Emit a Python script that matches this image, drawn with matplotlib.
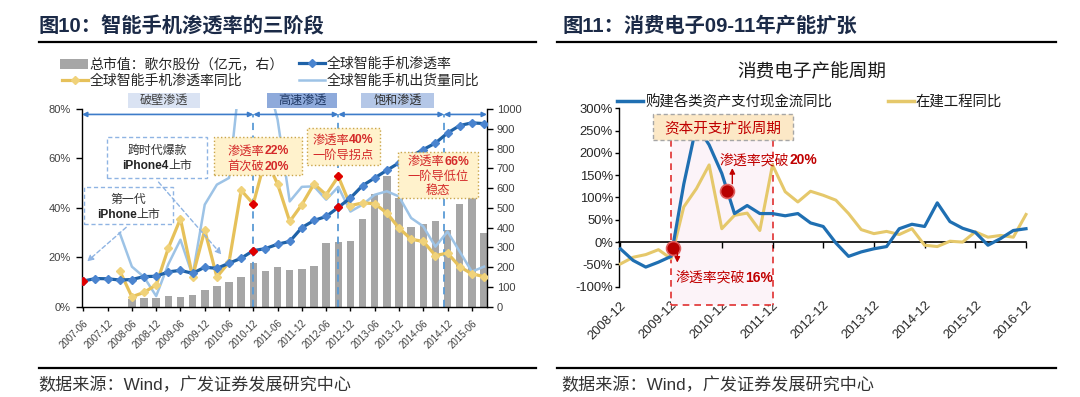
import numpy as np
import matplotlib
matplotlib.use("Agg")
import matplotlib.pyplot as plt
from matplotlib.patches import Rectangle, FancyArrowPatch
from matplotlib.lines import Line2D

FAM = ["Liberation Sans", "Noto Sans CJK SC"]
plt.rcParams["font.family"] = FAM
plt.rcParams["axes.unicode_minus"] = False

nan = np.nan
# ---------------- 图10 data ----------------
quarters_l = ["2007-06", "2007-09", "2007-12", "2008-03", "2008-06", "2008-09", "2008-12",
              "2009-03", "2009-06", "2009-09", "2009-12", "2010-03", "2010-06", "2010-09",
              "2010-12", "2011-03", "2011-06", "2011-09", "2011-12", "2012-03", "2012-06",
              "2012-09", "2012-12", "2013-03", "2013-06", "2013-09", "2013-12", "2014-03",
              "2014-06", "2014-09", "2014-12", "2015-03", "2015-06", "2015-09"]
penetration = [10.4, 11.4, 11.3, 10.8, 11.0, 12.2, 12.3, 14.1, 14.7, 13.5, 16.0, 15.5, 17.6, 19.6,
               22.7, 23.5, 25.3, 26.4, 32.0, 34.9, 36.5, 40.2, 44.0, 49.0, 52.1, 55.2, 58.2,
               60.9, 63.6, 66.2, 70.3, 73.3, 74.4, 74.1]
penetration_yoy = [nan, nan, nan, 14.5, 4.0, 5.8, 8.8, 23.7, 35.6, 12.2, 31.0, 12.0, 18.0, 47.1,
                   41.6, 60.0, 49.7, 34.5, 41.3, 49.7, 45.3, 52.7, 40.9, 42.0, 41.7, 37.9, 31.8,
                   27.3, 26.4, 20.7, 21.7, 16.2, 13.3, 12.2]
shipment_yoy = [nan, nan, nan, 29.8, 16.2, 12.0, 4.3, 17.2, 27.1, 12.6, 41.3, 49.4, 52.1, 98.0,
                105.0, 95.0, 75.7, 42.6, 48.5, 48.7, 43.3, 48.5, 38.5, 41.3, 45.3, 46.7, 44.6,
                35.9, 32.5, 24.3, 30.4, 22.3, 14.2, 16.2]
goertek_mv = [nan, nan, nan, nan, 41, 44, 43, 54, 49, 59, 83, 106, 125, 152, 223, 181, 203, 186,
              193, 207, 322, 329, 332, 442, 568, 659, 551, 403, 420, 434, 386, 522, 600, 375]
key_idx = [14, 21]            # 渗透率22%, 渗透率40%
stage_bounds = [14, 21, 29.7]  # dashed stage separators
stage_names = ["破壁渗透", "高速渗透", "饱和渗透"]

# ---------------- 图11 data ----------------
quarters_r = ["2008-12", "2009-03", "2009-06", "2009-09", "2009-12", "2010-03", "2010-06",
              "2010-09", "2010-12", "2011-03", "2011-06", "2011-09", "2011-12", "2012-03",
              "2012-06", "2012-09", "2012-12", "2013-03", "2013-06", "2013-09", "2013-12",
              "2014-03", "2014-06", "2014-09", "2014-12", "2015-03", "2015-06", "2015-09",
              "2015-12", "2016-03", "2016-06", "2016-09", "2016-12"]
capex_yoy = [-15, -41, -56, -45, -32, 130, 262, 218, 154, 64, 82, 64, 64, 59, 64, 43, 35, -2,
             -32, -22, -15, -10, 30, 40, 35, 88, 46, 31, 22, -7, 8, 26, 30]
cip_yoy = [-49, -34, -28, -17, -37, 79, 120, 173, 30, 60, 65, 26, 173, 113, 90, 114, 105, 94,
           64, 28, 19, 24, 17, 30, -7, -10, 2, 0, 23, 11, 15, 11, 62]

# ---------------- figure helpers ----------------
W, H = 1080, 397
fig = plt.figure(figsize=(W / 100, H / 100), dpi=100)


def fx(x):
    return x / W


def fy(y):
    return 1 - y / H


def fline(x0, y0, x1, y1, **kw):
    fig.add_artist(Line2D([fx(x0), fx(x1)], [fy(y0), fy(y1)], transform=fig.transFigure, **kw))


def fbox(x0, y0, x1, y1, fc, ec, ls="-", lw=1.0, z=5):
    fig.add_artist(Rectangle((fx(x0), fy(y1)), (x1 - x0) / W, (y1 - y0) / H,
                             transform=fig.transFigure, fc=fc, ec=ec, ls=ls, lw=lw, zorder=z))


def rich(x, y, parts, size, ha="center", z=7):
    """parts: list of (text, bold, color); y is visual center (px from top)."""
    r = fig.canvas.get_renderer()
    objs = []
    base = y + 0.36 * size * 100 / 72
    for s, bold, col in parts:
        t = fig.text(0, 0, s, fontsize=size, fontweight="bold" if bold else "normal",
                     color=col, ha="left", va="baseline", zorder=z)
        objs.append(t)
    ws = [t.get_window_extent(renderer=r).width for t in objs]
    x0 = x - sum(ws) / 2 if ha == "center" else x
    for t, w in zip(objs, ws):
        t.set_position((fx(x0), fy(base)))
        x0 += w


TITLE_C = "#1b2a47"
BLUE = "#1f62a8"
BLUE_M = "#4a84cf"
GOLD = "#e6c15a"
GOLD_M = "#f0d27a"
LBLUE = "#9dc3e6"
GREY = "#a6a6a6"
RED = "#e00000"
TXT_RED = "#d42a2a"

# ---------------- panel titles / rules / footers ----------------
fig.text(fx(38.8), fy(26), "图10：智能手机渗透率的三阶段", fontsize=14.6, fontweight="bold",
         color=TITLE_C, va="center", ha="left")
fig.text(fx(562.5), fy(26), "图11：消费电子09-11年产能扩张", fontsize=14.6, fontweight="bold",
         color=TITLE_C, va="center", ha="left")
fline(38.8, 42, 536.3, 42, color="black", lw=1.6)
fline(557.3, 42, 1056.3, 42, color="black", lw=1.6)
fline(38.8, 367.8, 536.3, 367.8, color="black", lw=1.6)
fline(557.3, 368.3, 1056.3, 368.3, color="black", lw=1.6)
fig.text(fx(38.8), fy(384.8), "数据来源：Wind，广发证券发展研究中心", fontsize=12.3,
         color="#333333", va="center", ha="left")
fig.text(fx(561.5), fy(384.8), "数据来源：Wind，广发证券发展研究中心", fontsize=12.3,
         color="#333333", va="center", ha="left")

# ---------------- left chart ----------------
ax1 = fig.add_axes([fx(82), fy(306.7), (487 - 82) / W, (306.7 - 109) / H])
ax2 = ax1.twinx()
ax1.set_zorder(ax2.get_zorder() + 1)
ax1.patch.set_visible(False)

xl = np.arange(len(quarters_l))
mv = np.array(goertek_mv, dtype=float)
ok = ~np.isnan(mv)
ax2.bar(xl[ok], mv[ok], width=0.62, color=GREY, zorder=2)
ax2.set_ylim(0, 1000)
ax2.set_yticks(np.arange(0, 1001, 100))
ax2.tick_params(axis="y", direction="out", length=4, width=1, labelsize=8,
                labelcolor="#404040", pad=3)
for s in ["top", "left", "bottom"]:
    ax2.spines[s].set_visible(False)
ax2.spines["right"].set_linewidth(1.0)

ax1.vlines(stage_bounds, 0, 77.8, colors="#5b9bd5", linestyles=(0, (4, 3)), lw=1.3, zorder=1.5)
ax1.plot(xl, shipment_yoy, color=LBLUE, lw=1.8, zorder=2)
ax1.plot(xl, penetration_yoy, color=GOLD, lw=2.3, marker="D", ms=4.5, mfc=GOLD_M, mec=GOLD_M,
         zorder=3)
ax1.plot(xl, penetration, color=BLUE, lw=2.3, marker="D", ms=4.5, mfc=BLUE_M, mec=BLUE_M,
         zorder=4)
pen = np.array(penetration)
yoy = np.array(penetration_yoy)
ax1.plot([0] + key_idx, pen[[0] + key_idx], ls="none", marker="D", ms=4.5, color=RED, zorder=6)
ax1.plot(key_idx, yoy[key_idx], ls="none", marker="D", ms=4.5, color=RED, zorder=6)

ax1.set_xlim(-0.11, 33.25)
ax1.set_ylim(0, 80)
ax1.set_yticks([0, 20, 40, 60, 80])
ax1.set_yticklabels([f"{v}%" for v in [0, 20, 40, 60, 80]])
ax1.set_xticks(xl[::2])
ax1.set_xticklabels(quarters_l[::2])
ax1.tick_params(axis="y", direction="out", length=4, width=1, labelsize=8, labelcolor="#404040",
                pad=4)
ax1.tick_params(axis="x", direction="out", length=3, width=1, labelsize=7, labelcolor="#404040",
                pad=5)
for lbl in ax1.get_xticklabels():
    lbl.set_rotation(45)
    lbl.set_ha("right")
    lbl.set_rotation_mode("anchor")
for s in ["top", "right"]:
    ax1.spines[s].set_visible(False)
for s in ["left", "bottom"]:
    ax1.spines[s].set_linewidth(1.0)

# stage arrows
edges = [ax1.get_xlim()[0]] + stage_bounds + [ax1.get_xlim()[1]]
for a, b in zip(edges[:-1], edges[1:]):
    ax1.annotate("", xy=(b, 77.8), xytext=(a, 77.8),
                 arrowprops=dict(arrowstyle="<|-|>", color="#3d7cc9", lw=1.2, shrinkA=0,
                                 shrinkB=0, mutation_scale=7),
                 annotation_clip=False, zorder=6)

# stage label boxes
stage_boxes = [(128, 200, "#dae3f3", "#404040"), (267, 337.4, "#8eaadb", "#1f3864"),
               (361, 434, "#b4c7e7", "#303030")]
for name, (x0, x1, fc, tc) in zip(stage_names, stage_boxes):
    fbox(x0, 92.7, x1, 108.3, fc, "none", z=5)
    fig.text(fx((x0 + x1) / 2), fy(100.5), name, fontsize=8.7, color=tc, ha="center",
             va="center", zorder=6)

# legend (left)
fbox(59.5, 59.5, 88.2, 69.2, GREY, "none", z=5)
fig.text(fx(89.3), fy(64), "总市值：歌尔股份（亿元，右）", fontsize=10, color="#262626",
         va="center", ha="left")
fline(299.3, 63.3, 325.3, 63.3, color=BLUE, lw=2.3)
fig.add_artist(Line2D([fx(312.3)], [fy(63.3)], transform=fig.transFigure, marker="D", ms=4.5,
                      color=BLUE_M, ls="none"))
fig.text(fx(327), fy(64), "全球智能手机渗透率", fontsize=10, color="#262626", va="center",
         ha="left")
fline(61.6, 80.3, 88.2, 80.3, color=GOLD, lw=2.3)
fig.add_artist(Line2D([fx(74.9)], [fy(80.3)], transform=fig.transFigure, marker="D", ms=4.5,
                      color=GOLD_M, ls="none"))
fig.text(fx(89.3), fy(81), "全球智能手机渗透率同比", fontsize=10, color="#262626",
         va="center", ha="left")
fline(299.3, 80.3, 325.3, 80.3, color=LBLUE, lw=1.8)
fig.text(fx(327), fy(81), "全球智能手机出货量同比", fontsize=10, color="#262626",
         va="center", ha="left")

# annotation boxes (left)
DASHB = "#8fb4e3"
fbox(106.7, 136.7, 207.3, 178.3, "white", DASHB, ls=(0, (3, 2)), lw=1.0)
rich(157, 149.5, [("跨时代爆款", False, "#333333")], 8.6)
rich(157, 165, [("iPhone4", True, "#222222"), ("上市", False, "#333333")], 8.6)
fbox(84.3, 187.3, 172.7, 224, "white", DASHB, ls=(0, (3, 2)), lw=1.0)
rich(128.5, 198.5, [("第一代", False, "#333333")], 8.6)
rich(128.5, 213.5, [("iPhone", True, "#222222"), ("上市", False, "#333333")], 8.6)
for (a, b) in [((156.7, 180), (223.3, 256.7)), ((128.3, 225.5), (85, 263.3))]:
    fig.add_artist(FancyArrowPatch((fx(a[0]), fy(a[1])), (fx(b[0]), fy(b[1])),
                                   transform=fig.transFigure, arrowstyle="-|>",
                                   mutation_scale=9, color=DASHB, lw=1.0,
                                   ls=(0, (3, 2)), zorder=5))

YFILL = "#fff2cc"
YEDGE = "#c9a54a"
fbox(214.3, 136.5, 302.3, 175.5, YFILL, YEDGE, ls=":", lw=1.0)
rich(258.3, 150, [("渗透率", False, TXT_RED), ("22%", True, TXT_RED)], 8.8)
rich(258.3, 165.5, [("首次破", False, TXT_RED), ("20%", True, TXT_RED)], 8.8)
fbox(306.7, 128.3, 380, 165, YFILL, YEDGE, ls=":", lw=1.0)
rich(343.3, 139, [("渗透率", False, TXT_RED), ("40%", True, TXT_RED)], 8.8)
rich(343.3, 155, [("一阶导拐点", False, TXT_RED)], 8.8)
fbox(398.3, 152.3, 478.3, 197.7, YFILL, YEDGE, ls=":", lw=1.0)
rich(438.3, 160.5, [("渗透率", False, TXT_RED), ("66%", True, TXT_RED)], 8.8)
rich(438.3, 175.5, [("一阶导低位", False, TXT_RED)], 8.8)
rich(438.3, 190, [("稳态", False, TXT_RED)], 8.8)

# ---------------- right chart ----------------
ax3 = fig.add_axes([fx(619.3), fy(286.7), (1026 - 619.3) / W, (286.7 - 108.3) / H])
xr = np.arange(len(quarters_r))
ax3.set_xlim(-0.087, 32)
ax3.set_ylim(-100, 300)

# expansion-cycle shaded region 2009-12 .. 2011-12
i0, i1 = quarters_r.index("2009-12"), quarters_r.index("2011-12")
ax3.add_patch(Rectangle((i0, -141), i1 - i0, 141 + 229, fc="#fcf3f8", ec="none", zorder=0.5,
                        clip_on=False))
for xs, ys in [([i0, i0], [229, -141]), ([i1, i1], [229, -141]), ([i0, i1], [-141, -141])]:
    ax3.plot(xs, ys, color="#e03030", lw=1.2, ls=(0, (4, 3)), zorder=1, clip_on=False)

ax3.plot(xr, cip_yoy, color="#e5c86b", lw=2.2, zorder=3, clip_on=False)
ax3.plot(xr, capex_yoy, color="#1f6fb2", lw=2.3, zorder=4, clip_on=False)

# break-through points on capex line
pt16 = 4.12
pt20 = 8.43
for p in (pt16, pt20):
    ax3.plot([p], [np.interp(p, xr, capex_yoy)], marker="o", ms=10, mfc="#b80000",
             mec="#e06060", mew=1.2, ls="none", zorder=6, clip_on=False)
ax3.annotate("", xy=(4.49, -46), xytext=(4.49, -20),
             arrowprops=dict(arrowstyle="-|>", color="#c00000", lw=1.0, mutation_scale=8,
                             shrinkA=0, shrinkB=0), zorder=6)
ax3.annotate("", xy=(8.83, 166), xytext=(8.83, 131),
             arrowprops=dict(arrowstyle="-|>", color="#c00000", lw=1.0, mutation_scale=8,
                             shrinkA=0, shrinkB=0), zorder=6)

ax3.set_yticks(np.arange(-100, 301, 50))
ax3.set_yticklabels([f"{v}%" for v in range(-100, 301, 50)])
ax3.tick_params(axis="y", direction="out", length=3, width=1, labelsize=9.4,
                labelcolor="#262626", pad=1.5)
ax3.spines["bottom"].set_position(("data", 0))
ax3.spines["top"].set_visible(False)
ax3.spines["right"].set_visible(False)
ax3.spines["left"].set_linewidth(1.0)
ax3.spines["bottom"].set_linewidth(1.2)
ax3.set_xticks(xr[::4])
ax3.tick_params(axis="x", direction="out", length=4, width=1, labelbottom=False)
sec = ax3.secondary_xaxis("bottom")
sec.set_xticks(xr[::4])
sec.set_xticklabels(quarters_r[::4])
sec.spines["bottom"].set_visible(False)
sec.tick_params(axis="x", length=0, pad=9, labelsize=9.4, labelcolor="#262626")
for lbl in sec.get_xticklabels():
    lbl.set_rotation(45)
    lbl.set_ha("right")
    lbl.set_rotation_mode("anchor")

# title + legend (right)
fig.text(fx(811.6), fy(72.7), "消费电子产能周期", fontsize=13.4, color="#1a1a1a", ha="center",
         va="center")
fline(616.8, 101.4, 643.1, 101.4, color="#1f6fb2", lw=2.5)
fig.text(fx(645.5), fy(102), "购建各类资产支付现金流同比", fontsize=10.4, color="#1a1a1a",
         va="center", ha="left")
fline(887.8, 101.4, 913.7, 101.4, color="#e5c86b", lw=2.5)
fig.text(fx(915.4), fy(102), "在建工程同比", fontsize=10.4, color="#1a1a1a", va="center",
         ha="left")

# capex cycle box
fbox(653.3, 114.3, 792.7, 140, "#fce8c6", "#a6a6a6", ls=(0, (3, 2)), lw=1.0)
rich(723, 127.3, [("资本开支扩张周期", False, "#c00000")], 10.5)
rich(720, 159.3, [("渗透率突破", False, "#c00000"), ("20%", True, "#c00000")], 10, ha="left")
rich(676, 276.7, [("渗透率突破", False, "#c00000"), ("16%", True, "#c00000")], 10, ha="left")

fig.savefig("out.png", dpi=100)
